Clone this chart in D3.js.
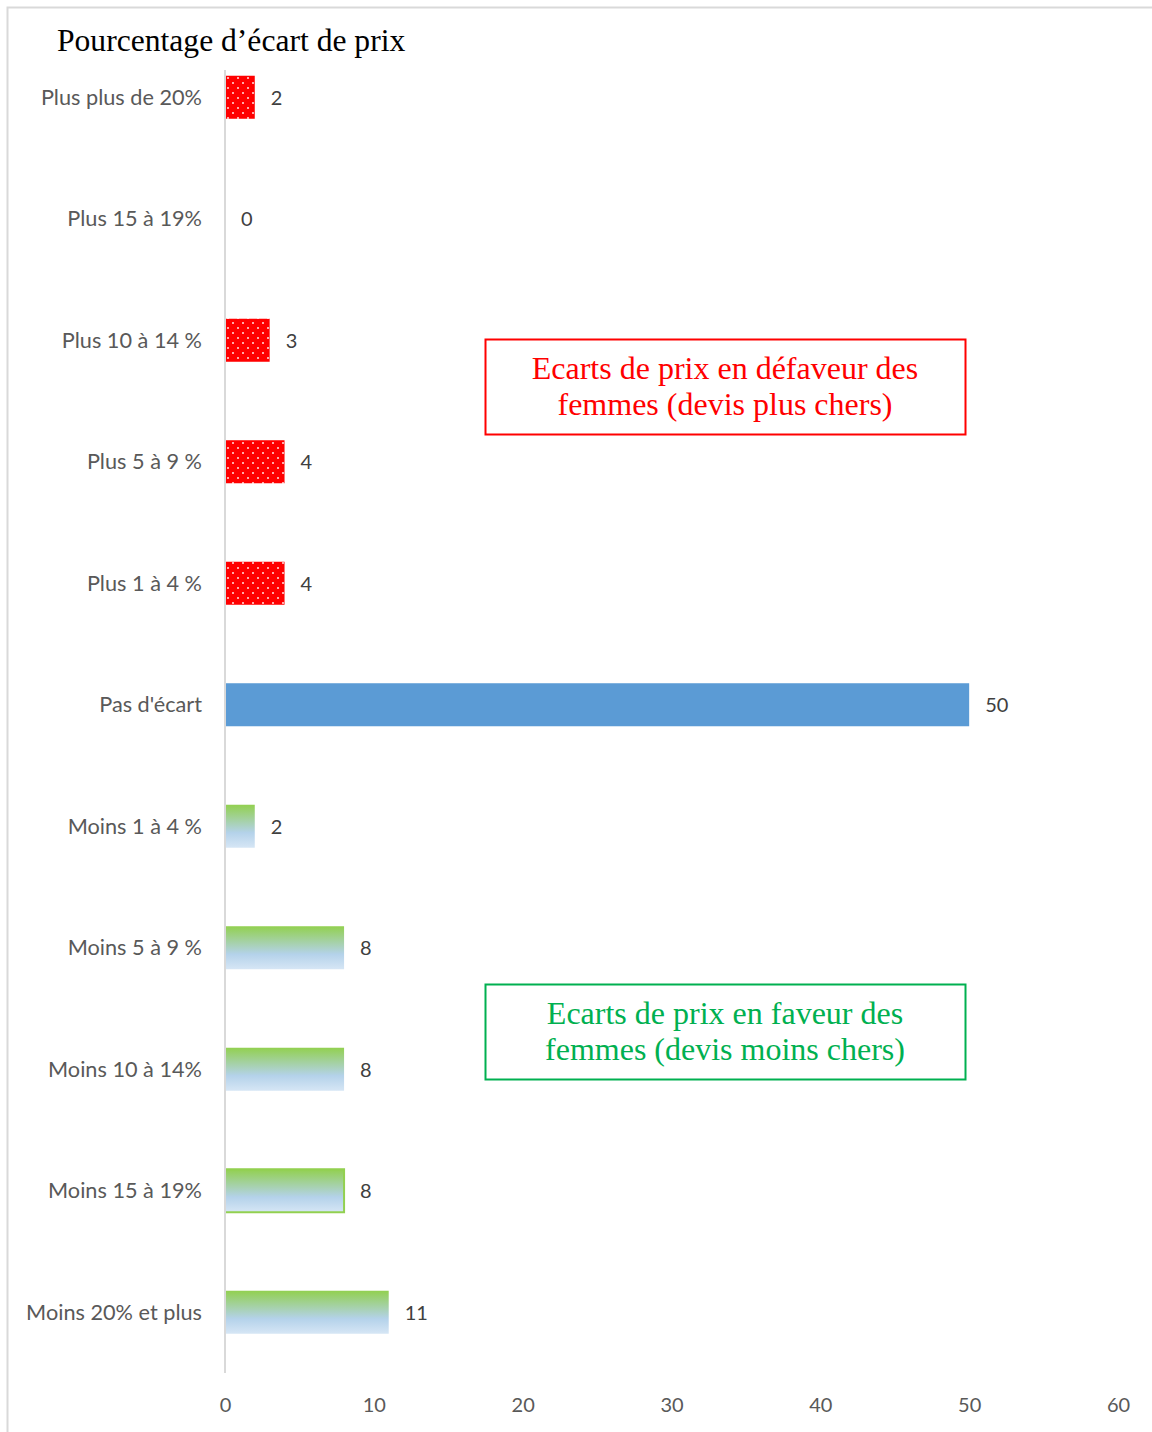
<!doctype html>
<html lang="fr">
<head>
<meta charset="utf-8">
<script src="https://cdnjs.cloudflare.com/ajax/libs/d3/7.8.5/d3.min.js"></script>
<style>
  body { margin: 0; background: #fff; }
  svg { display: block; }
  .cat text { font-family: Lato, 'Open Sans', sans-serif; font-size: 21.7px; fill: #595959; }
  .tick text { font-family: Lato, 'Open Sans', sans-serif; font-size: 20px; fill: #595959; }
  .val { font-family: Lato, 'Open Sans', sans-serif; font-size: 20px; fill: #404040; }
  .serif { font-family: 'Liberation Serif', 'DejaVu Serif', serif; }
</style>
</head>
<body>
<script>

// data, top to bottom
const categories = ["Plus plus de 20%", "Plus 15 à 19%", "Plus 10 à 14 %", "Plus 5 à 9 %", "Plus 1 à 4 %",
  "Pas d'écart", "Moins 1 à 4 %", "Moins 5 à 9 %", "Moins 10 à 14%", "Moins 15 à 19%", "Moins 20% et plus"]
const values = [2, 0, 3, 4, 4, 50, 2, 8, 8, 8, 11]
const groups = ["plus", "plus", "plus", "plus", "plus", "pas", "moins", "moins", "moins", "moins", "moins"]
const xTicks = [0, 10, 20, 30, 40, 50, 60]

const w = 1152, h = 1432

const svg = d3.select("body").append("svg")
  .attr("width", w)
  .attr("height", h)

// fills
const defs = svg.append("defs")
const pat = defs.append("pattern")
  .attr("id", "dots")
  .attr("patternUnits", "userSpaceOnUse")
  .attr("width", 10).attr("height", 10)
pat.append("rect").attr("width", 10).attr("height", 10).attr("fill", "#ff0000")
pat.append("circle").attr("cx", 3).attr("cy", 3).attr("r", 1).attr("fill", "#ffe0e0")
pat.append("circle").attr("cx", 8).attr("cy", 8).attr("r", 1).attr("fill", "#ffe0e0")

const grad = defs.append("linearGradient")
  .attr("id", "greenGrad")
  .attr("x1", 0).attr("y1", 0).attr("x2", 0).attr("y2", 1)
grad.append("stop").attr("offset", "0%").attr("stop-color", "#92d050")
grad.append("stop").attr("offset", "65%").attr("stop-color", "#b4d2ea")
grad.append("stop").attr("offset", "100%").attr("stop-color", "#d6e6f5")

const fillFor = g => g == "plus" ? "url(#dots)" : (g == "pas" ? "#5b9bd5" : "url(#greenGrad)")

// outer frame
svg.append("rect")
  .attr("x", 7.5).attr("y", 7.5)
  .attr("width", w + 10).attr("height", h + 10)
  .attr("fill", "none")
  .attr("stroke", "#d9d9d9")
  .attr("stroke-width", 2)

// scales
const xScale = d3.scaleLinear().domain([0, 60]).range([225, 1118])
const yScale = d3.scaleBand().domain(categories).range([36.5, 1373]).paddingInner(0.646).paddingOuter(0.323)

// bars
svg.selectAll("rect.bar")
  .data(values)
  .enter()
  .append("rect")
  .attr("class", "bar")
  .attr("x", xScale(0))
  .attr("y", (d, i) => yScale(categories[i]))
  .attr("width", d => xScale(d) - xScale(0))
  .attr("height", yScale.bandwidth())
  .attr("fill", (d, i) => fillFor(groups[i]))
  .attr("stroke", (d, i) => i == 9 ? "#92d050" : "none")
  .attr("stroke-width", 2)

// value labels
svg.selectAll("text.val")
  .data(values)
  .enter()
  .append("text")
  .attr("class", "val")
  .attr("x", d => xScale(d) + 16)
  .attr("y", (d, i) => yScale(categories[i]) + yScale.bandwidth() / 2)
  .attr("dy", "0.38em")
  .text(d => d)

// category axis
svg.append("g")
  .attr("class", "cat")
  .selectAll("text")
  .data(categories)
  .enter()
  .append("text")
  .attr("x", 202)
  .attr("y", d => yScale(d) + yScale.bandwidth() / 2)
  .attr("dy", "0.35em")
  .attr("text-anchor", "end")
  .text(d => d)

svg.append("line")
  .attr("x1", xScale(0)).attr("x2", xScale(0))
  .attr("y1", 70).attr("y2", 1373)
  .attr("stroke", "#d9d9d9")
  .attr("stroke-width", 2)

// x axis (labels only)
const xAxis = d3.axisBottom(xScale).tickValues(xTicks).tickSize(0).tickPadding(0)
const gx = svg.append("g")
  .attr("transform", "translate(0, 1396)")
  .call(xAxis)
gx.select(".domain").remove()
gx.selectAll("text").attr("dy", "0.8em")

// title
svg.append("text")
  .attr("class", "serif")
  .attr("x", 57)
  .attr("y", 51)
  .attr("font-size", 31.6)
  .attr("fill", "#000")
  .text("Pourcentage d’écart de prix")

// annotation boxes
const notes = [
  { y: 339, color: "#ff0000", lines: ["Ecarts de prix en défaveur des", "femmes (devis plus chers)"] },
  { y: 984, color: "#00b050", lines: ["Ecarts de prix en faveur des", "femmes (devis moins chers)"] }
]
notes.forEach(n => {
  svg.append("rect")
    .attr("x", 485.5).attr("y", n.y + 0.5)
    .attr("width", 480).attr("height", 95)
    .attr("fill", "#fff")
    .attr("stroke", n.color)
    .attr("stroke-width", 2)
  n.lines.forEach((t, j) => {
    svg.append("text")
      .attr("class", "serif")
      .attr("x", 725)
      .attr("y", n.y + 40 + j * 36)
      .attr("text-anchor", "middle")
      .attr("font-size", 32)
      .attr("fill", n.color)
      .text(t)
  })
})

</script>
</body>
</html>
